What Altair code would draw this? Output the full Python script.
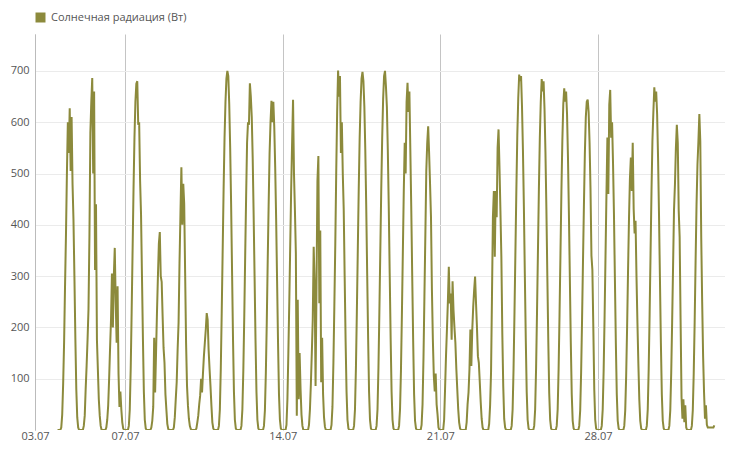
import altair as alt
import pandas as pd

# ---- data (hourly solar radiation, W) ----
days = ["2014-07-04", "2014-07-05", "2014-07-06", "2014-07-07", "2014-07-08",
        "2014-07-09", "2014-07-10", "2014-07-11", "2014-07-12", "2014-07-13",
        "2014-07-14", "2014-07-15", "2014-07-16", "2014-07-17", "2014-07-18",
        "2014-07-19", "2014-07-20", "2014-07-21", "2014-07-22", "2014-07-23",
        "2014-07-24", "2014-07-25", "2014-07-26", "2014-07-27", "2014-07-28",
        "2014-07-29", "2014-07-30", "2014-07-31", "2014-08-01"]

# one row per day, 24 hourly values (00:00 .. 23:00)
radiation = [
    [0,0,0,0,5,30,90,170,280,380,500,600,540,627,505,610,480,410,300,180,80,25,5,0],
    [0,0,0,0,8,28,80,125,176,235,376,579,640,686,500,660,312,440,176,118,60,28,8,0],
    [0,0,0,0,5,20,48,100,160,215,305,200,300,355,250,170,280,110,45,75,40,15,3,0],
    [0,0,0,0,8,40,120,230,350,470,570,640,675,680,595,600,486,420,300,180,75,20,3,0],
    [0,0,0,0,5,18,45,180,73,150,230,300,363,386,300,289,222,160,131,70,40,12,2,0],
    [0,0,0,0,5,25,60,93,157,209,325,420,512,400,480,441,306,170,86,48,22,8,2,0],
    [0,0,0,0,3,15,28,50,67,100,73,110,144,170,196,228,215,157,120,86,48,15,3,0],
    [0,0,0,0,8,40,120,230,350,470,570,640,685,700,690,635,550,440,310,180,75,20,3,0],
    [0,0,0,0,8,40,115,220,340,455,560,600,595,676,650,610,530,420,300,175,75,20,3,0],
    [0,0,0,0,8,38,110,210,330,440,540,600,642,600,640,590,510,410,290,170,70,20,3,0],
    [0,0,0,0,10,60,150,250,360,470,560,644,500,428,344,28,254,60,150,80,30,8,0,0],
    [0,0,0,0,10,40,90,150,215,357,286,86,280,486,534,247,389,93,180,70,25,6,0,0],
    [0,0,0,0,10,45,130,240,360,500,620,701,650,690,540,600,500,430,300,175,75,20,3,0],
    [0,0,0,0,8,40,120,230,350,470,570,640,685,698,680,630,545,435,305,180,75,20,3,0],
    [0,0,0,0,8,40,120,230,350,470,570,645,690,700,670,630,545,435,305,180,75,20,3,0],
    [0,0,0,0,8,40,115,225,345,465,560,500,640,677,620,660,545,430,300,175,70,18,3,0],
    [0,0,0,0,10,50,140,260,380,505,560,592,540,480,415,273,176,106,75,110,50,30,5,0],
    [0,0,0,0,20,80,144,196,250,318,247,266,176,290,234,200,170,120,80,41,15,3,0,0],
    [0,0,0,0,15,50,73,118,196,125,196,240,273,299,247,200,144,131,93,54,22,5,0,0],
    [0,0,0,0,12,48,112,260,415,466,338,466,415,550,586,512,428,338,189,86,22,5,0,0],
    [0,0,0,0,8,40,120,230,350,470,575,647,693,680,690,630,545,435,305,180,75,20,3,0],
    [0,0,0,0,8,40,120,230,350,470,570,640,684,660,680,625,540,430,300,175,72,20,3,0],
    [0,0,0,0,8,40,118,225,345,465,565,635,666,640,660,615,530,420,295,170,70,18,3,0],
    [0,0,0,0,8,38,112,215,330,440,540,610,640,644,620,560,470,340,312,200,80,20,3,0],
    [0,0,0,0,8,40,115,220,340,460,570,460,634,663,570,600,520,420,295,170,70,18,3,0],
    [0,0,0,0,8,38,105,200,310,410,490,531,466,560,431,383,408,300,210,130,60,18,3,0],
    [0,0,0,0,8,40,118,225,345,465,565,620,668,640,660,615,530,420,295,170,70,18,3,0],
    [0,0,0,0,8,38,110,210,320,430,479,550,595,560,428,376,215,64,22,60,15,48,5,0],
    [0,0,0,0,8,38,110,210,330,440,518,563,616,563,376,250,144,73,22,48,10,5,5,5],
]
tail_day = "2014-08-02"
tail_values = [5, 5, 5, 5, 9]

series_name = "Солнечная радиация (Вт)"
tick_dates = ["2014-07-03", "2014-07-07", "2014-07-14", "2014-07-21", "2014-07-28"]
y_ticks = [100, 200, 300, 400, 500, 600, 700]

rows = []
for day, vals in zip(days, radiation):
    for h, v in enumerate(vals):
        rows.append({"t": f"{day}T{h:02d}:00:00", "v": v, "s": series_name})
for h, v in enumerate(tail_values):
    rows.append({"t": f"{tail_day}T{h:02d}:00:00", "v": v, "s": series_name})
df = pd.DataFrame(rows)


def dt(s, hours=0, minutes=0):
    y, m, d = (int(x) for x in s.split("-"))
    return alt.DateTime(year=y, month=m, date=d, hours=hours, minutes=minutes)


line_color = "#8c8a3c"
font = "Open Sans"

chart = alt.Chart(df).mark_line(strokeWidth=2, color=line_color, clip=True).encode(
    x=alt.X("t:T",
            scale=alt.Scale(domain=[dt("2014-07-03"), dt("2014-08-02", 15, 20)]),
            axis=alt.Axis(title=None, values=[dt(s) for s in tick_dates],
                          format="%d.%m", domain=False, ticks=False, tickSize=0,
                          labelPadding=0.5, labelFlush=False, labelOverlap=False,
                          labelFont=font, labelFontSize=11, labelColor="#555555",
                          grid=True, gridColor="#c4c4c4", gridWidth=1)),
    y=alt.Y("v:Q",
            scale=alt.Scale(domain=[0, 772], nice=False, zero=True),
            axis=alt.Axis(title=None, values=y_ticks,
                          domain=True, domainColor="#bbbbbb", domainWidth=1,
                          ticks=False, tickSize=0, labelPadding=6,
                          labelFont=font, labelFontSize=11, labelColor="#555555",
                          grid=True, gridColor="#ebebeb", gridWidth=1)),
    color=alt.Color("s:N",
                    scale=alt.Scale(domain=[series_name], range=[line_color]),
                    legend=alt.Legend(title=None, orient="none", legendX=0, legendY=-22,
                                      symbolType="square", symbolSize=100,
                                      symbolFillColor=line_color,
                                      symbolStrokeColor=line_color,
                                      symbolStrokeWidth=0, padding=0,
                                      labelOffset=5, labelFont=font,
                                      labelFontSize=11, labelColor="#555555")),
).properties(
    width=690,
    height=396,
    autosize=alt.AutoSizeParams(type="none"),
    padding={"left": 27, "top": 26, "right": 0, "bottom": 13},
).configure_view(stroke=None)

chart.save("out.html", embed_options={"renderer": "svg", "actions": False})
